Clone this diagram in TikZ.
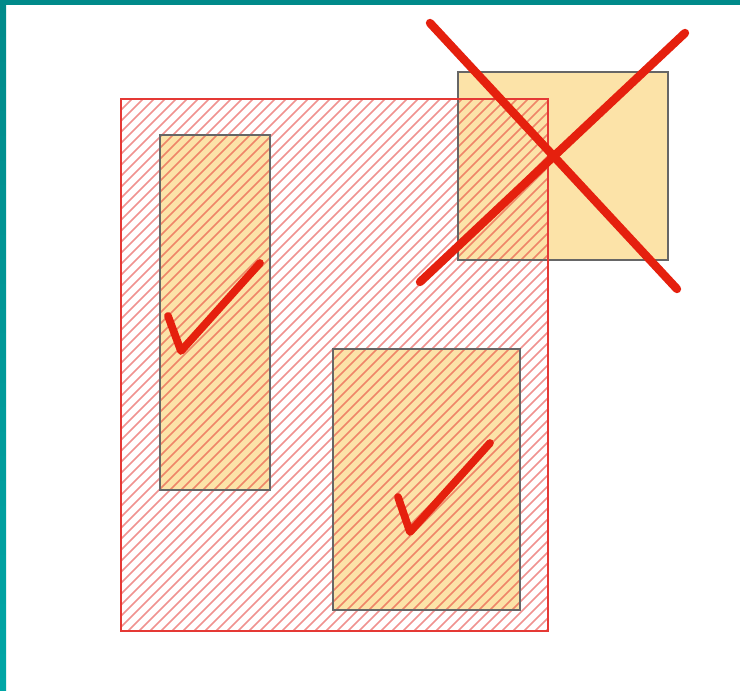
\documentclass[tikz,border=0pt]{standalone}
\usetikzlibrary{positioning}
\definecolor{edgeteal}{HTML}{008A8A}
\definecolor{edgetealb}{HTML}{00A6A6}
\definecolor{partfill}{HTML}{FCE3A8}
\definecolor{partgray}{HTML}{666666}
\definecolor{sheetred}{HTML}{E53935}
\definecolor{markred}{HTML}{E5200E}
\begin{document}
\begin{tikzpicture}[x=0.75pt,y=-0.75pt,
  part/.style={fill=partfill},
  partedge/.style={draw=partgray,line width=1.1pt},
  hatchln/.style={draw=sheetred,opacity=0.55,line width=1.1pt},
  sheetedge/.style={draw=sheetred,line width=1.6pt},
  okmark/.style={draw=markred,line width=5.8pt,line cap=round,line join=round},
  nomark/.style={draw=markred,line width=6.3pt,line cap=round}]
\useasboundingbox (0,0) rectangle (740,690);
\fill[white] (0,0) rectangle (740,690);
\fill[edgeteal] (0,0) rectangle (740,5);
\shade[top color=edgeteal,bottom color=edgetealb] (0,0) rectangle (6,690);
% sheet and parts
\coordinate (sheetA) at (121,99);\coordinate (sheetB) at (548,631);
\coordinate (leftA) at (160,135);\coordinate (leftB) at (270,490);
\coordinate (lowA) at (333,349);\coordinate (lowB) at (520,610);
\coordinate (outA) at (458,72);\coordinate (outB) at (668,260);
\fill[part] (leftA) rectangle (leftB);
\fill[part] (lowA) rectangle (lowB);
\fill[part] (outA) rectangle (outB);
\begin{scope}
\clip (sheetA) rectangle (sheetB);
\foreach \c in {220,231,...,1190} \draw[hatchln] (\c-631,631) -- (\c-99,99);
\end{scope}
\draw[partedge] (leftA) rectangle (leftB);
\draw[partedge] (lowA) rectangle (lowB);
\draw[partedge] (outA) rectangle (outB);
\draw[sheetedge] (sheetA) rectangle (sheetB);
% marks
\draw[okmark] (168,316) -- (181,351) -- (260,263);
\draw[okmark] (398,497) -- (410,532) -- (490,443);
\coordinate (xa) at (430,23);\coordinate (xb) at (677,289);
\coordinate (xc) at (685,33);\coordinate (xd) at (420,282);
\draw[nomark] (xa) -- (xb);\draw[nomark] (xc) -- (xd);
\end{tikzpicture}
\end{document}
